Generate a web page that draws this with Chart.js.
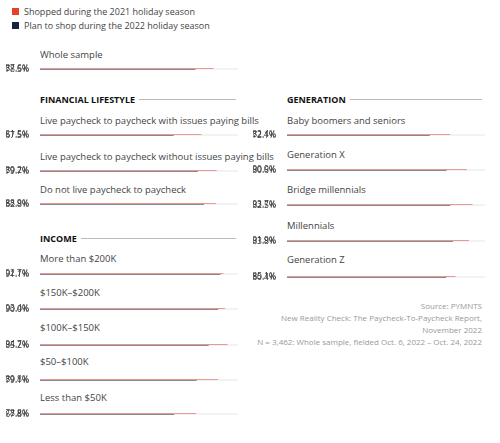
<!DOCTYPE html>
<html><head><meta charset="utf-8">
<script src="https://cdn.jsdelivr.net/npm/chart.js@4"></script>
<style>
body{margin:0;width:500px;height:443px;background:#fff;position:relative;font-family:"Open Sans",Arial,sans-serif;overflow:hidden}
.t{position:absolute;font-size:9.5px;color:#444;white-space:nowrap}
.h{position:absolute;font-size:9px;font-weight:bold;color:#111;white-space:nowrap;display:flex;align-items:center}
.h span.r{display:inline-block;height:1px;background:#bbb;margin-left:4px}
.c{position:absolute}
.src{position:absolute;right:18px;font-size:8px;color:#999;text-align:right;white-space:nowrap}
.lg{position:absolute;left:12px;font-size:9px;color:#444;display:flex;align-items:center}
.lg i{display:inline-block;width:7px;height:7px;margin-right:5px}
</style></head><body>
<script>
const red='#e8402a', navy='#14243f', track='#e6e6ea';
const legendLabels=['Shopped during the 2021 holiday season','Plan to shop during the 2022 holiday season'];
const leftCats=['Whole sample','Live paycheck to paycheck with issues paying bills','Live paycheck to paycheck without issues paying bills','Do not live paycheck to paycheck','More than $200K','$150K–$200K','$100K–$150K','$50–$100K','Less than $50K'];
const left2021=[87.6,81.5,89.2,88.9,92.7,93.4,94.7,89.8,78.8];
const left2022=[78.5,67.5,79.7,82.8,91.1,90.0,85.2,79.1,67.8];
const rightCats=['Baby boomers and seniors','Generation X','Bridge millennials','Millennials','Generation Z'];
const right2021=[82.4,90.9,93.7,91.9,85.1];
const right2022=[72.1,80.6,82.5,83.8,80.4];
const leftTitleY=[48,114,150,183,252,286,321,355,391];
const leftBarY=[64,130,166,199,269,304,340,375,409];
const rightTitleY=[114,148,183,219,253];
const rightBarY=[130,165,200,236,272];

function el(cls,txt,x,y){const d=document.createElement('div');d.className=cls;d.textContent=txt;d.style.left=x+'px';d.style.top=y+'px';document.body.appendChild(d);return d;}
function head(txt,x,y,w){const d=document.createElement('div');d.className='h';d.style.left=x+'px';d.style.top=y+'px';d.style.width=w+'px';
 const s=document.createElement('span');s.textContent=txt;d.appendChild(s);const r=document.createElement('span');r.className='r';r.style.flex='1';d.appendChild(r);document.body.appendChild(d);}
legendLabels.forEach((l,i)=>{const d=document.createElement('div');d.className='lg';d.style.top=(5+i*14)+'px';d.innerHTML='<i style="background:'+(i?navy:red)+'"></i>';d.appendChild(document.createTextNode(l));document.body.appendChild(d);});
head('FINANCIAL LIFESTYLE',40,93,196);
head('INCOME',40,232,196);
head('GENERATION',287,93,195);

function bar(title,a,b,x0,ty,by){
 el('t',title,x0+34,ty);
 const c=document.createElement('canvas');const w=232,h=18;
 c.width=w;c.height=h;c.style.width=w+'px';c.style.height=h+'px';
 c.className='c';c.style.left=x0+'px';c.style.top=(by-4.5)+'px';
 document.body.appendChild(c);
 new Chart(c,{type:'bar',data:{labels:[a.toFixed(1)+'%',b.toFixed(1)+'%'],datasets:[
  {data:[a,b],backgroundColor:[red,navy],grouped:false,order:0,barPercentage:0.72,categoryPercentage:1},
  {data:[100,100],backgroundColor:track,grouped:false,order:1,barPercentage:0.72,categoryPercentage:1}]},
 options:{indexAxis:'y',responsive:false,animation:false,events:[],devicePixelRatio:1,
  layout:{padding:0},plugins:{legend:{display:false},tooltip:{enabled:false}},
  scales:{x:{display:false,min:0,max:100},
   y:{grid:{display:false},border:{display:false},afterFit:s=>{s.width=34},
      ticks:{autoSkip:false,padding:3,color:'#333',font:{size:8.5,family:'Open Sans'}}}}}});
}
leftCats.forEach((t,i)=>bar(t,left2021[i],left2022[i],6,leftTitleY[i],leftBarY[i]));
rightCats.forEach((t,i)=>bar(t,right2021[i],right2022[i],253,rightTitleY[i],rightBarY[i]));
['Source: PYMNTS','New Reality Check: The Paycheck-To-Paycheck Report,','November 2022','N = 3,462: Whole sample, fielded Oct. 6, 2022 – Oct. 24, 2022'].forEach((s,i)=>{const d=el('src',s,0,300+i*12);d.style.left='auto';});
</script>
</body></html>
